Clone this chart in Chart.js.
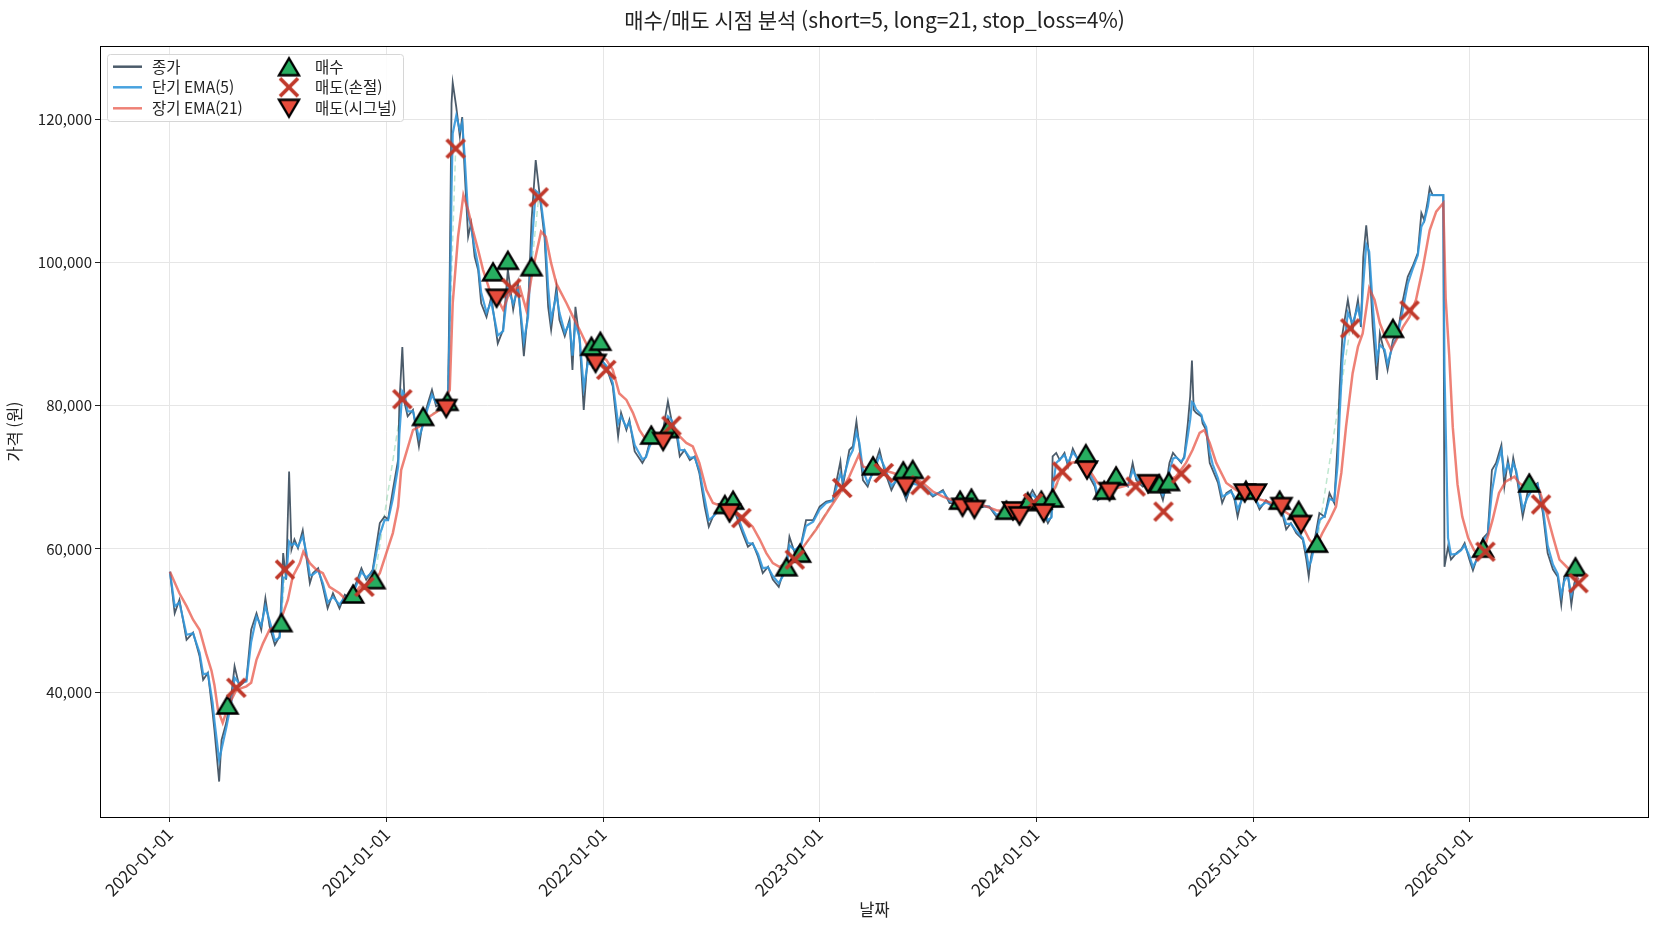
<!DOCTYPE html>
<html lang="ko">
<head>
<meta charset="utf-8">
<title>매수/매도 시점 분석</title>
<script src="https://cdn.jsdelivr.net/npm/chart.js@4.4.1/dist/chart.umd.min.js"></script>
<style>
  html, body { margin: 0; padding: 0; background: #fff; }
  #chart { display: block; }
</style>
</head>
<body>
<canvas id="chart" width="1660" height="930"></canvas>
<script>
// x values are days counted from 2020-01-01
const priceDays = [
  0, 8, 16, 28, 39, 50, 56, 64, 72, 75,
  83, 87, 95, 104, 109, 117, 129, 137, 146, 154,
  161, 168, 177, 185, 191, 196, 201, 205, 210, 216,
  224, 230, 236, 241, 250, 258, 266, 275, 286, 295,
  303, 314, 323, 331, 342, 354, 362, 368, 376, 385,
  387, 392, 396, 401, 410, 420, 427, 435, 442, 449,
  460, 469, 472, 475, 477, 483, 489, 493, 497, 503,
  508, 514, 520, 525, 534, 542, 553, 562, 570, 579,
  587, 597, 604, 610, 617, 624, 632, 638, 643, 652,
  657, 666, 674, 679, 684, 691, 698, 705, 713, 725,
  736, 747, 756, 761, 770, 775, 784, 797, 803, 809,
  817, 829, 840, 846, 855, 860, 868, 877, 885, 893,
  902, 909, 916, 924, 936, 947, 958, 966, 975, 983,
  992, 1000, 1009, 1017, 1027, 1034, 1040, 1045, 1054, 1065,
  1073, 1085, 1096, 1107, 1118, 1131, 1135, 1146, 1152, 1158,
  1163, 1169, 1177, 1186, 1197, 1205, 1217, 1228, 1242, 1253,
  1270, 1287, 1304, 1315, 1332, 1349, 1366, 1382, 1394, 1411,
  1427, 1444, 1455, 1467, 1481, 1487, 1489, 1495, 1501, 1509,
  1515, 1523, 1534, 1543, 1551, 1560, 1565, 1574, 1585, 1596,
  1607, 1616, 1624, 1630, 1641, 1652, 1664, 1675, 1680, 1686,
  1692, 1697, 1706, 1711, 1717, 1721, 1724, 1727, 1731, 1740,
  1742, 1748, 1754, 1759, 1768, 1775, 1782, 1790, 1796, 1801,
  1810, 1821, 1829, 1838, 1849, 1860, 1872, 1883, 1891, 1900,
  1911, 1917, 1921, 1925, 1931, 1939, 1948, 1956, 1964, 1970,
  1973, 1978, 1987, 1995, 2004, 2009, 2013, 2018, 2023, 2029,
  2036, 2041, 2049, 2054, 2063, 2071, 2080, 2088, 2096, 2105,
  2111, 2116, 2122, 2125, 2130, 2148, 2150, 2156, 2161, 2170,
  2178, 2184, 2192, 2198, 2206, 2215, 2223, 2230, 2237, 2246,
  2251, 2257, 2262, 2266, 2271, 2276, 2282, 2290, 2299, 2307,
  2316, 2324, 2333, 2341, 2347, 2352, 2358, 2364, 2369, 2376
];
const closePrices = [
  56800, 51000, 52900, 47300, 48300, 45000, 41700, 42700, 37100, 34700,
  27500, 33300, 35700, 39900, 43600, 40800, 41700, 48700, 51000, 48700,
  53100, 49200, 46600, 47800, 59400, 55700, 70800, 59900, 61300, 60100,
  62600, 58900, 55200, 56600, 57300, 54700, 51700, 53800, 51700, 53600,
  53100, 55200, 57300, 55700, 57100, 63600, 64500, 64100, 68200, 72500,
  80300, 88200, 80300, 78500, 79400, 74300, 78000, 80300, 82200, 79900,
  80300, 80300, 99000, 122200, 125100, 121700, 117600, 120300, 112900, 103600,
  105500, 100800, 98900, 94300, 92400, 95200, 88700, 90600, 99000, 93400,
  97100, 86900, 93400, 105900, 114300, 109200, 103400, 93800, 90600, 96600,
  92000, 89700, 92000, 85000, 93800, 89200, 79400, 87300, 85400, 86800,
  85400, 82700, 75700, 79000, 76600, 78000, 73600, 72000, 72900, 74800,
  75900, 75200, 80600, 78000, 75700, 72900, 73800, 72400, 72900, 70600,
  65900, 63100, 64500, 65400, 65000, 66400, 64000, 62200, 60300, 60800,
  58900, 56600, 57500, 55700, 54700, 56600, 58000, 61700, 59400, 60800,
  64000, 64000, 65900, 66600, 66800, 72200, 68700, 73800, 74300, 77800,
  74300, 69600, 68700, 71000, 73800, 71000, 68200, 70100, 66800, 69600,
  68700, 67300, 68200, 66400, 66400, 66400, 65900, 65900, 64500, 65000,
  65000, 66400, 68200, 66400, 63600, 64500, 72900, 73400, 72400, 73400,
  71500, 74000, 72000, 72400, 70100, 68700, 66800, 67300, 68700, 68700,
  69200, 68700, 72000, 69600, 68700, 69200, 69600, 66800, 68700, 72000,
  73400, 72900, 72000, 72900, 77500, 81300, 86300, 79400, 79000, 78500,
  77500, 76600, 72000, 71000, 69200, 66400, 67800, 68200, 66800, 64500,
  67800, 67300, 67300, 65500, 66800, 65900, 66400, 62700, 63600, 62200,
  61300, 58500, 56100, 58900, 61300, 65000, 64500, 67800, 66400, 75200,
  82200, 90100, 94800, 90600, 94800, 91000, 100800, 105200, 100400, 91000,
  83600, 90100, 87300, 85000, 89200, 90100, 94800, 98000, 99400, 101300,
  106900, 105900, 108700, 110400, 109400, 109400, 57500, 60300, 58500, 59400,
  59900, 60800, 58500, 57000, 59000, 61500, 62200, 71000, 72000, 74500,
  68700, 72400, 70100, 72700, 70600, 67800, 64500, 67800, 68700, 69200,
  65000, 59400, 57100, 56100, 52200, 56100, 56600, 52200, 55200, 56600
];
const ema5Prices = [
  56800, 52000, 52500, 48000, 48200, 45500, 42500, 42600, 38500, 36000,
  30500, 32000, 35000, 38800, 42000, 41200, 41500, 47000, 50500, 49300,
  52000, 50000, 47200, 47600, 56000, 56000, 61000, 60500, 60800, 60300,
  61800, 59500, 56300, 56400, 57000, 55200, 52500, 53300, 52200, 53300,
  53200, 54800, 56800, 56000, 56800, 62000, 64000, 64000, 67000, 71500,
  76000, 82000, 81500, 79200, 79200, 75500, 77300, 79700, 81500, 80400,
  80300, 80300, 92000, 110000, 118000, 120500, 118500, 119500, 115000, 106500,
  105000, 102000, 99500, 95800, 93000, 94500, 89800, 90400, 96500, 94200,
  96300, 89000, 92300, 102000, 110000, 109500, 104500, 96500, 92000, 95500,
  93000, 90200, 91500, 87000, 91500, 89500, 82500, 86000, 85600, 86500,
  85600, 83200, 77500, 78500, 77000, 77700, 74500, 72500, 72800, 74300,
  75600, 75300, 78500, 78000, 76200, 73800, 73800, 72700, 72800, 71000,
  67000, 64000, 64500, 65200, 65000, 66100, 64500, 62700, 60800, 60700,
  59300, 57300, 57400, 56200, 55200, 56200, 57500, 60500, 59800, 60600,
  63200, 63800, 65500, 66400, 66700, 70500, 69500, 72800, 73800, 76300,
  74800, 71000, 69200, 70600, 73000, 71500, 68800, 69700, 67300, 69100,
  68800, 67500, 68000, 66700, 66400, 66400, 66000, 65900, 64800, 64900,
  65000, 66200, 67600, 66500, 64000, 64400, 68500, 72000, 72500, 73100,
  72000, 73500, 72300, 72300, 70600, 69200, 67500, 67300, 68400, 68700,
  69100, 68800, 71000, 70000, 69000, 69100, 69500, 67500, 68200, 70800,
  72600, 72800, 72200, 72700, 75800, 78000, 80500, 80300, 79500, 78700,
  78000, 77000, 73500, 71800, 69800, 67300, 67600, 68000, 67200, 65500,
  67200, 67300, 67300, 65900, 66500, 66000, 66300, 63500, 63500, 62500,
  61500, 59500, 57500, 58300, 60500, 64000, 64600, 67000, 66700, 72000,
  78500, 86500, 93000, 91500, 93800, 91800, 97000, 102500, 101500, 94000,
  86500, 88500, 87800, 85800, 88500, 89800, 93500, 97000, 99000, 101000,
  105000, 105800, 107800, 109500, 109400, 109400, 85000, 61500, 59200, 59300,
  59800, 60500, 59000, 57500, 58700, 61000, 62000, 68000, 71300, 73800,
  70500, 71800, 70600, 72000, 70900, 68600, 65500, 67200, 68400, 69000,
  65800, 60500, 57800, 56500, 53500, 55500, 56300, 53500, 54800, 56000
];

const ema21Days = [
  0, 16, 28, 39, 50, 61, 70, 75, 81, 89,
  98, 112, 129, 137, 146, 157, 168, 179, 191, 199,
  207, 219, 225, 236, 247, 258, 269, 286, 297, 309,
  320, 331, 342, 354, 365, 376, 385, 390, 410, 421,
  438, 455, 472, 477, 486, 495, 503, 511, 520, 528,
  539, 551, 562, 570, 579, 590, 601, 612, 626, 634,
  643, 652, 669, 680, 691, 702, 713, 725, 736, 747,
  758, 770, 781, 792, 803, 820, 837, 854, 871, 882,
  893, 905, 916, 933, 950, 966, 983, 995, 1006, 1017,
  1028, 1040, 1057, 1073, 1090, 1107, 1130, 1146, 1162, 1169,
  1186, 1203, 1220, 1236, 1253, 1270, 1287, 1304, 1326, 1349,
  1371, 1394, 1416, 1439, 1461, 1472, 1489, 1501, 1518, 1534,
  1551, 1565, 1585, 1607, 1630, 1652, 1675, 1697, 1714, 1725,
  1737, 1745, 1754, 1765, 1782, 1799, 1821, 1843, 1860, 1877,
  1894, 1911, 1922, 1933, 1944, 1956, 1967, 1976, 1984, 1995,
  2004, 2012, 2023, 2032, 2041, 2052, 2060, 2069, 2080, 2091,
  2102, 2113, 2125, 2136, 2148, 2152, 2158, 2164, 2172, 2180,
  2190, 2200, 2209, 2220, 2231, 2242, 2253, 2268, 2276, 2293,
  2310, 2321, 2333, 2344, 2356, 2367, 2376
];
const ema21Prices = [
  56800, 53800, 52000, 50100, 48700, 45400, 43000, 41000, 37500, 35700,
  38000, 40300, 40800, 41300, 44500, 46800, 48700, 49200, 51000, 52900,
  56100, 58000, 59600, 58000, 57100, 56600, 54700, 53800, 52900, 53400,
  54700, 54700, 55200, 56600, 59400, 62200, 65900, 71000, 76600, 77100,
  78500, 79400, 82200, 94300, 103600, 109400, 107300, 104500, 101700, 99000,
  96200, 95200, 93400, 95200, 96200, 96600, 93400, 99000, 104300, 103600,
  99900, 97000, 94300, 92400, 90600, 88700, 87300, 86800, 86400, 85000,
  81700, 80800, 79000, 76600, 75200, 75200, 76600, 76200, 74800, 74300,
  72000, 68200, 66400, 65900, 65400, 64500, 63100, 61300, 59400, 58000,
  57500, 58000, 58900, 60800, 62700, 64900, 67800, 70100, 73100, 71500,
  71000, 71000, 70600, 70100, 70100, 69200, 68000, 67300, 66600, 66400,
  66100, 65400, 65200, 65400, 66000, 66200, 67800, 70100, 72000, 72200,
  71000, 69200, 68200, 68700, 69200, 69200, 69200, 70100, 72000, 73800,
  76200, 76600, 74800, 72000, 69200, 68200, 67300, 66800, 66400, 65400,
  64500, 63100, 61300, 60300, 62200, 64000, 65900, 70600, 77100, 84500,
  88200, 90100, 96400, 94800, 91500, 89200, 87800, 89200, 91000, 92400,
  94800, 99000, 104500, 107100, 108300, 95000, 87000, 77000, 69000, 64500,
  61500, 59800, 59400, 60800, 64000, 67800, 69400, 70100, 69200, 68200,
  68200, 65400, 61700, 58500, 57500, 56600, 55700
];

const buyDays = [97, 188, 309, 345, 427, 468, 545, 570, 610, 711, 726, 812, 840, 936, 950,
  1040, 1063, 1186, 1237, 1253, 1333, 1352, 1411, 1447, 1470, 1489, 1545, 1576, 1596, 1669,
  1685, 1815, 1872, 1904, 1935, 2063, 2215, 2293, 2371];
const buyPrices = [38200, 49700, 53700, 55700, 78500, 80600, 98700, 100300, 99400, 88300, 89000, 75900, 76800, 66200, 66800,
  57500, 59400, 71600, 70900, 71100, 66800, 67100, 65400, 66600, 66800, 67100, 73300, 68200, 70200, 69100,
  69400, 68200, 66800, 65400, 60800, 90800, 60100, 69200, 57500];

const stopDays = [112, 194, 328, 392, 482, 576, 622, 736, 846, 964, 1054, 1134, 1204, 1266,
  1456, 1505, 1629, 1676, 1706, 1991, 2091, 2219, 2313, 2376];
const stopPrices = [40600, 57100, 54700, 80900, 115900, 96400, 109100, 85000, 77200, 64300, 58500, 68500, 70600, 68900,
  66400, 70800, 68700, 65200, 70500, 90800, 93300, 59600, 66200, 55200];

const signalDays = [466, 551, 718, 832, 944, 1241, 1337, 1357, 1422, 1433, 1474, 1547, 1585, 1650,
  1813, 1832, 1875, 1908];
const signalPrices = [79600, 95000, 85900, 75000, 65000, 68700, 65800, 65500, 65300, 64600, 65000, 71000, 68000, 69100,
  67800, 67800, 65900, 63400];

const xTickLabels = ['2020-01-01', '2021-01-01', '2022-01-01', '2023-01-01', '2024-01-01', '2025-01-01', '2026-01-01'];
const yTickValues = [40000, 60000, 80000, 100000, 120000];
const seriesLabels = ['종가', '단기 EMA(5)', '장기 EMA(21)', '매수', '매도(손절)', '매도(시그널)'];
const titleText = '매수/매도 시점 분석 (short=5, long=21, stop_loss=4%)';
const xTitle = '날짜';
const yTitle = '가격 (원)';

const FONT = "'Noto Sans CJK KR', 'Noto Sans', sans-serif";
const PRICE_COLOR = 'rgba(44, 62, 80, 0.85)';
const EMA5_COLOR = 'rgba(52, 152, 219, 0.9)';
const EMA21_COLOR = 'rgba(231, 76, 60, 0.7)';

const DAY0 = Date.UTC(2020, 0, 1);
const dayOf = s => (Date.parse(s) - DAY0) / 86400000;
const toXY = (xs, ys) => xs.map((x, i) => ({ x, y: ys[i] }));

// marker glyphs, centred like matplotlib markers
function makeMarker(kind) {
  const c = document.createElement('canvas');
  c.width = 32; c.height = 32;
  const g = c.getContext('2d');
  g.translate(16, 16);
  if (kind === 'x') {
    g.strokeStyle = '#c0392b';
    g.lineWidth = 3.8;
    g.beginPath();
    g.moveTo(-9, -9); g.lineTo(9, 9);
    g.moveTo(9, -9); g.lineTo(-9, 9);
    g.stroke();
  } else {
    const s = kind === 'up' ? 1 : -1;
    g.beginPath();
    g.moveTo(0, -8.5 * s);
    g.lineTo(10, 8.5 * s);
    g.lineTo(-10, 8.5 * s);
    g.closePath();
    g.fillStyle = kind === 'up' ? '#27ae60' : '#e74c3c';
    g.fill();
    g.lineJoin = 'miter';
    g.strokeStyle = '#000';
    g.lineWidth = 2.4;
    g.stroke();
  }
  return c;
}
const upMark = makeMarker('up');
const downMark = makeMarker('down');
const xMark = makeMarker('x');

// dashed link from a buy to the following sell when that trade ended higher
const allSells = toXY(stopDays, stopPrices).concat(toXY(signalDays, signalPrices)).sort((a, b) => a.x - b.x);
const tradeLinks = [];
buyDays.forEach((d, i) => {
  const s = allSells.find(p => p.x > d);
  if (s && s.y > buyPrices[i]) {
    tradeLinks.push({
      type: 'line',
      label: '_trade',
      data: [{ x: d, y: buyPrices[i] }, { x: s.x, y: s.y }],
      borderColor: 'rgba(39, 174, 96, 0.3)',
      borderWidth: 1.5,
      borderDash: [6, 4],
      pointRadius: 0,
      order: 10
    });
  }
});

const chromePlugin = {
  id: 'chrome',
  afterDatasetsDraw(chart) {
    const { ctx, chartArea: a } = chart;
    ctx.save();
    ctx.strokeStyle = '#000';
    ctx.lineWidth = 1;
    ctx.strokeRect(a.left + 0.5, a.top + 0.5, a.right - a.left - 1, a.bottom - a.top);
    ctx.restore();
  },
  afterDraw(chart) {
    const { ctx, chartArea: a } = chart;
    ctx.save();
    ctx.fillStyle = '#222';
    ctx.textAlign = 'center';
    ctx.textBaseline = 'middle';
    ctx.font = '21px ' + FONT;
    ctx.fillText(titleText, (a.left + a.right) / 2, 20);
    ctx.font = '16.5px ' + FONT;
    ctx.fillText(xTitle, (a.left + a.right) / 2, 910);
    ctx.translate(15, (a.top + a.bottom) / 2);
    ctx.rotate(-Math.PI / 2);
    ctx.fillText(yTitle, 0, 0);
    ctx.restore();

    // legend, two columns like the original
    const bx = 107, by = 54, bw = 296, bh = 67;
    const rows = [66.7, 87.3, 108.3];
    ctx.save();
    ctx.beginPath();
    ctx.roundRect(bx + 0.5, by + 0.5, bw, bh, 3);
    ctx.fillStyle = 'rgba(255,255,255,0.85)';
    ctx.fill();
    ctx.strokeStyle = '#d6d6d6';
    ctx.lineWidth = 1;
    ctx.stroke();
    const lineColors = [PRICE_COLOR, EMA5_COLOR, EMA21_COLOR];
    const marks = [upMark, xMark, downMark];
    ctx.font = '15.5px ' + FONT;
    ctx.textAlign = 'left';
    ctx.textBaseline = 'middle';
    for (let i = 0; i < 3; i++) {
      ctx.strokeStyle = lineColors[i];
      ctx.lineWidth = 2.5;
      ctx.beginPath();
      ctx.moveTo(113, rows[i]);
      ctx.lineTo(142, rows[i]);
      ctx.stroke();
      ctx.fillStyle = '#222';
      ctx.fillText(seriesLabels[i], 152, rows[i]);
      ctx.drawImage(marks[i], 289 - 16, rows[i] - 16);
      ctx.fillText(seriesLabels[i + 3], 315, rows[i]);
    }
    ctx.restore();
  }
};

new Chart(document.getElementById('chart'), {
  type: 'line',
  data: {
    datasets: [
      {
        type: 'scatter', label: seriesLabels[5], data: toXY(signalDays, signalPrices),
        pointStyle: downMark, pointRadius: 10, order: 0
      },
      {
        type: 'scatter', label: seriesLabels[4], data: toXY(stopDays, stopPrices),
        pointStyle: xMark, pointRadius: 10, order: 1
      },
      {
        type: 'scatter', label: seriesLabels[3], data: toXY(buyDays, buyPrices),
        pointStyle: upMark, pointRadius: 10, order: 2
      },
      {
        label: seriesLabels[2], data: toXY(ema21Days, ema21Prices),
        borderColor: EMA21_COLOR, borderWidth: 2.5, pointRadius: 0, order: 3
      },
      {
        label: seriesLabels[1], data: toXY(priceDays, ema5Prices),
        borderColor: EMA5_COLOR, borderWidth: 2.2, pointRadius: 0, order: 4
      },
      {
        label: seriesLabels[0], data: toXY(priceDays, closePrices),
        borderColor: PRICE_COLOR, borderWidth: 1.8, pointRadius: 0, order: 5
      },
      ...tradeLinks
    ]
  },
  options: {
    responsive: false,
    animation: false,
    devicePixelRatio: 1,
    layout: { padding: { top: 46, right: 10, left: 0, bottom: 0 } },
    elements: { line: { tension: 0 } },
    plugins: {
      legend: { display: false },
      tooltip: { enabled: false },
      title: { display: false }
    },
    scales: {
      x: {
        type: 'linear',
        min: -118,
        max: 2495,
        afterBuildTicks: s => { s.ticks = xTickLabels.map(l => ({ value: dayOf(l) })); },
        afterFit: s => { s.height = 113; },
        border: { display: false },
        grid: { color: '#e6e6e6', tickColor: '#222', tickLength: 5 },
        ticks: {
          autoSkip: false,
          minRotation: 45,
          maxRotation: 45,
          padding: 2,
          color: '#222',
          font: { family: FONT, size: 17 },
          callback: (v, i) => xTickLabels[i]
        }
      },
      y: {
        type: 'linear',
        min: 22550,
        max: 130230,
        afterBuildTicks: s => { s.ticks = yTickValues.map(v => ({ value: v })); },
        afterFit: s => { s.width = 100; },
        border: { display: false },
        grid: { color: '#e6e6e6', tickColor: '#222', tickLength: 5 },
        ticks: {
          padding: 3,
          color: '#222',
          font: { family: FONT, size: 15 },
          callback: v => v.toLocaleString('en-US')
        }
      }
    }
  },
  plugins: [chromePlugin]
});
</script>
</body>
</html>
